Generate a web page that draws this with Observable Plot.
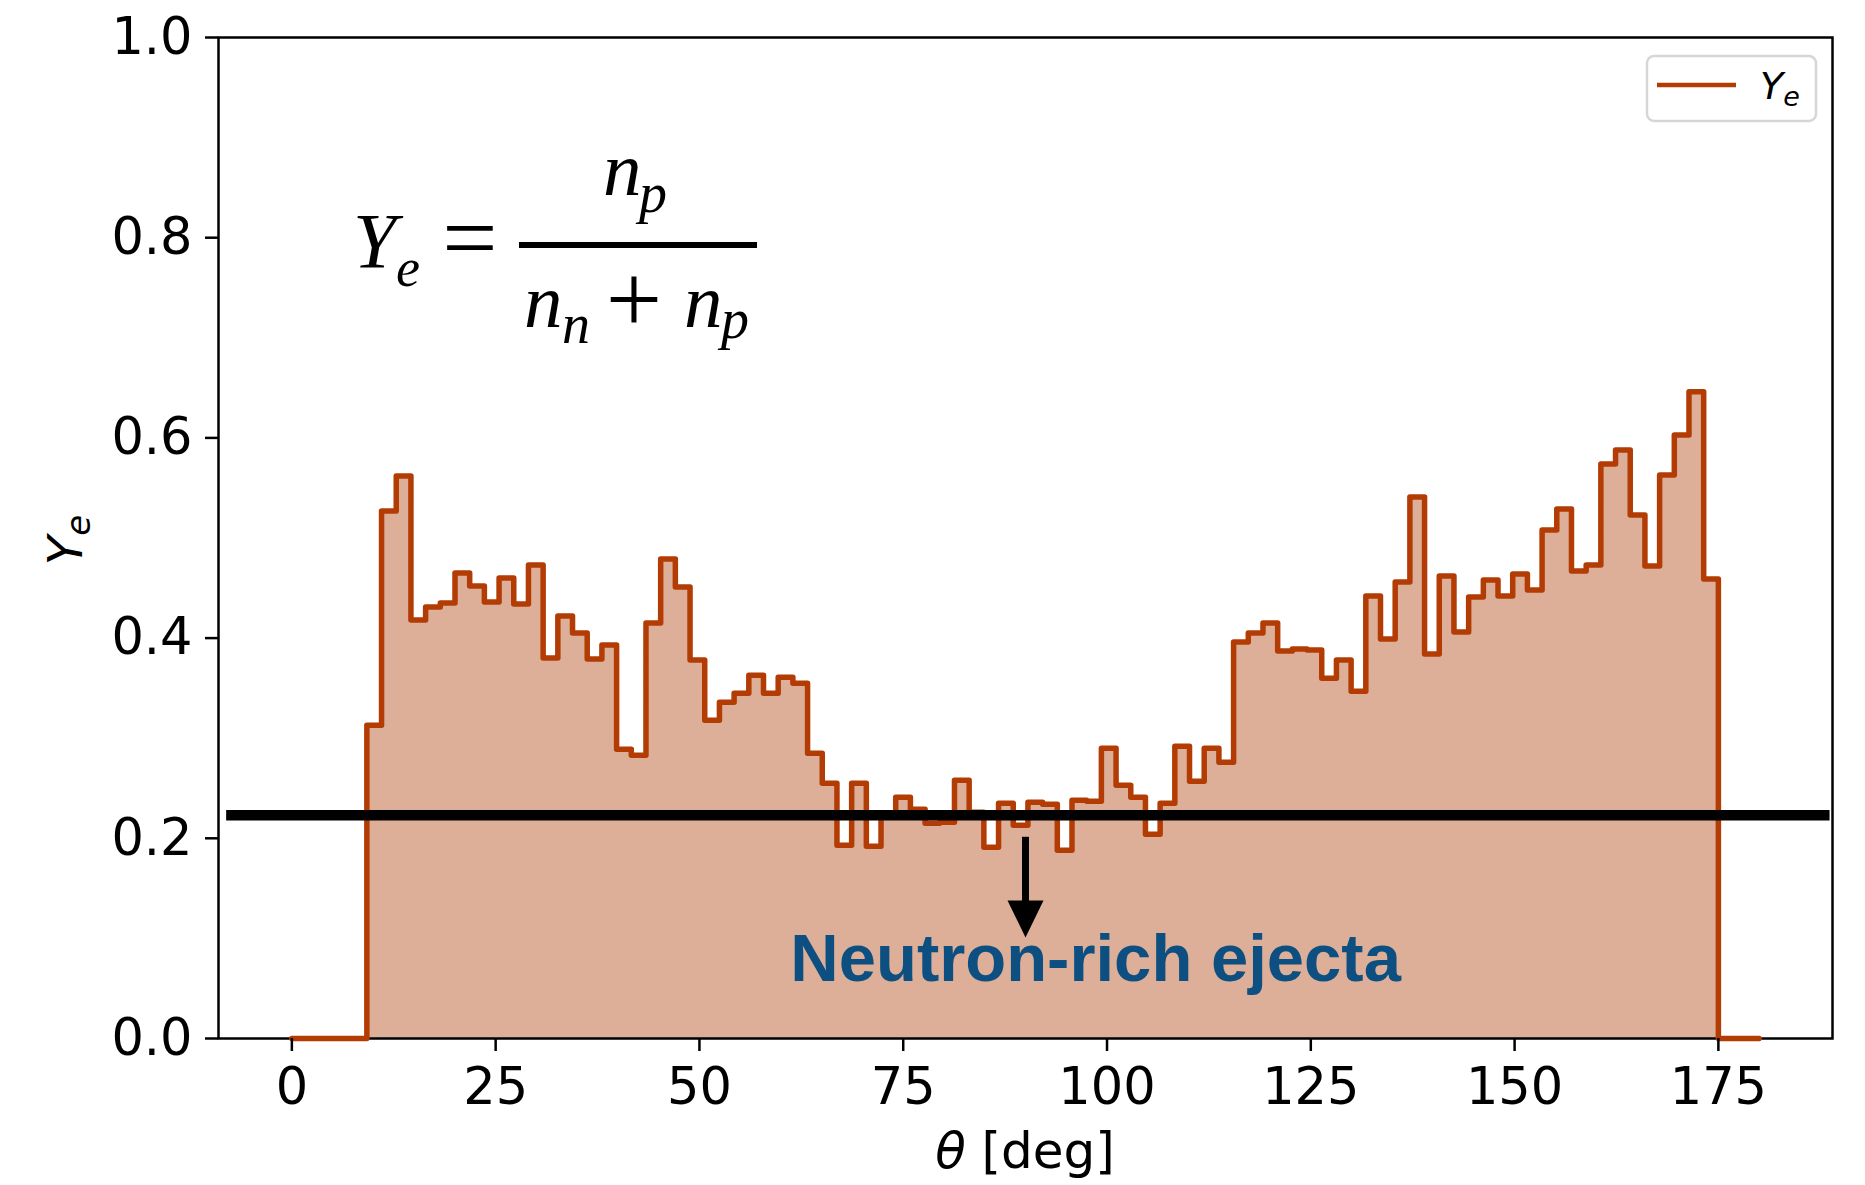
<!DOCTYPE html>
<html><head><meta charset="utf-8">
<script src="https://cdn.jsdelivr.net/npm/d3@7"></script>
<script src="https://cdn.jsdelivr.net/npm/@observablehq/plot@0.6"></script>
<style>
html,body{margin:0;padding:0;background:#fff;}
</style></head><body><div id="chart"></div>
<script>
// ---- data ----
const thetaRange = [0, 180];          // full extent of the histogram line
const firstEdge = 9.2;                // first non-empty bin edge [deg]
const lastEdge = 175.0;               // last non-empty bin edge [deg]
const ye = [
  0.313, 0.527, 0.562, 0.418, 0.431, 0.435, 0.465, 0.452, 0.436, 0.460,
  0.434, 0.473, 0.380, 0.422, 0.405, 0.379, 0.393, 0.289, 0.283, 0.415,
  0.479, 0.451, 0.378, 0.318, 0.336, 0.345, 0.363, 0.345, 0.361, 0.355,
  0.285, 0.255, 0.193, 0.255, 0.192, 0.224, 0.241, 0.229, 0.215, 0.216,
  0.258, 0.226, 0.191, 0.235, 0.213, 0.236, 0.234, 0.188, 0.238, 0.237,
  0.290, 0.253, 0.241, 0.204, 0.235, 0.292, 0.257, 0.290, 0.276, 0.396,
  0.405, 0.415, 0.387, 0.389, 0.388, 0.360, 0.378, 0.347, 0.442, 0.399,
  0.456, 0.541, 0.384, 0.462, 0.406, 0.441, 0.458, 0.442, 0.464, 0.448,
  0.508, 0.529, 0.467, 0.473, 0.574, 0.588, 0.523, 0.472, 0.563, 0.603,
  0.646, 0.459
];
const xTicks = [0, 25, 50, 75, 100, 125, 150, 175];
const yTicks = [0, 0.2, 0.4, 0.6, 0.8, 1.0];
const threshold = 0.223;
const thresholdSpan = [-8.0, 188.7];
const arrowX = 90, arrowTop = 0.201, arrowTip = 0.101;
const annotation = ["Neutron-rich ejecta"];
const annotationPos = [98.6, 0.079];

// ---- build ----
const W = 1865, H = 1185;
const stroke = "#b33c04", fill = "#ddae98";
const binW = (lastEdge - firstEdge) / ye.length;
const pts = [{theta: thetaRange[0], v: 0}];
ye.forEach((v, i) => pts.push({theta: firstEdge + i * binW, v}));
pts.push({theta: lastEdge, v: 0});
pts.push({theta: thetaRange[1], v: 0});

const head = {draw(ctx) { ctx.moveTo(0, 0); ctx.lineTo(-18, -37); ctx.lineTo(18, -37); ctx.closePath(); }};

const plot = Plot.plot({
  width: W, height: H,
  marginLeft: 218, marginRight: 33, marginTop: 37, marginBottom: 147,
  style: {fontFamily: "DejaVu Sans", fontSize: "51px", color: "#000", background: "#fff", overflow: "visible"},
  x: {domain: [-9, 189]},
  y: {domain: [0, 1]},
  marks: [
    Plot.areaY(pts, {x: "theta", y: "v", curve: "step-after", fill}),
    Plot.frame({stroke: "#000", strokeWidth: 2.5}),
    Plot.lineY(pts, {x: "theta", y: "v", curve: "step-after", stroke, strokeWidth: 5.5, strokeLinejoin: "round"}),
    Plot.ruleY([threshold], {x1: thresholdSpan[0], x2: thresholdSpan[1], stroke: "#000", strokeWidth: 10.5}),
    Plot.ruleX([arrowX], {y1: arrowTop, y2: arrowTip + 0.03, stroke: "#000", strokeWidth: 7}),
    Plot.dot([{x: arrowX, y: arrowTip}], {x: "x", y: "y", symbol: head, fill: "#000", stroke: "none", r: 10}),
    Plot.text(annotation, {x: annotationPos[0], y: annotationPos[1], text: d => d, fill: "#0c4f80",
      fontSize: 67, fontWeight: "bold", fontFamily: "Liberation Sans", textAnchor: "middle", lineAnchor: "middle"}),
    Plot.axisX({ticks: xTicks, tickSize: 13, tickPadding: 16, strokeWidth: 2.5, fontSize: 51, label: null}),
    Plot.axisY({ticks: yTicks, tickFormat: d3.format(".1f"), tickSize: 13, tickPadding: 13, strokeWidth: 2.5, fontSize: 51, label: null})
  ]
});
document.getElementById("chart").appendChild(plot);
const svg = d3.select(plot);

// axis labels
const xl = svg.append("text").attr("x", 1025).attr("y", 1168).attr("text-anchor", "middle")
  .attr("font-family", "DejaVu Sans").attr("font-size", 50).attr("fill", "#000");
xl.append("tspan").attr("font-style", "italic").text("θ");
xl.append("tspan").text(" [deg]");

const yl = svg.append("text").attr("transform", "translate(82,540) rotate(-90)").attr("text-anchor", "middle")
  .attr("font-family", "DejaVu Sans").attr("font-size", 48).attr("font-style", "italic").attr("fill", "#000");
yl.append("tspan").text("Y");
yl.append("tspan").attr("font-size", 34).attr("dy", 8).text("e");

// formula
const g = svg.append("g").attr("font-family", "'Liberation Serif', 'Times New Roman', serif").attr("fill", "#000");
function t(x, y, s, size, italic, anchor) {
  g.append("text").attr("x", x).attr("y", y).attr("font-size", size)
    .attr("font-style", italic ? "italic" : "normal").attr("text-anchor", anchor || "start").text(s);
}
t(353, 267, "Y", 78, true);
t(396, 286, "e", 54, true);
t(470, 270, "=", 98, false, "middle");
g.append("rect").attr("x", 519).attr("y", 242).attr("width", 238).attr("height", 6);
t(603, 195, "n", 77, true);
t(639, 212, "p", 56, true);
t(524, 327, "n", 77, true);
t(562, 343, "n", 56, true);
t(634, 333, "+", 100, false, "middle");
t(684, 327, "n", 77, true);
t(721, 338, "p", 56, true);

// legend
const lg = svg.append("g");
lg.append("rect").attr("x", 1647).attr("y", 56).attr("width", 169).attr("height", 65).attr("rx", 7)
  .attr("fill", "#fff").attr("fill-opacity", 0.8).attr("stroke", "#d6d6d6").attr("stroke-width", 2.5);
lg.append("line").attr("x1", 1657).attr("x2", 1736).attr("y1", 85).attr("y2", 85)
  .attr("stroke", stroke).attr("stroke-width", 4.5);
const lt = lg.append("text").attr("x", 1780).attr("y", 99).attr("font-family", "DejaVu Sans")
  .attr("font-style", "italic").attr("font-size", 38).attr("fill", "#000");
lt.append("tspan").text("Y");
lt.append("tspan").attr("font-size", 27).attr("dy", 7).text("e");
</script>
</body></html>
